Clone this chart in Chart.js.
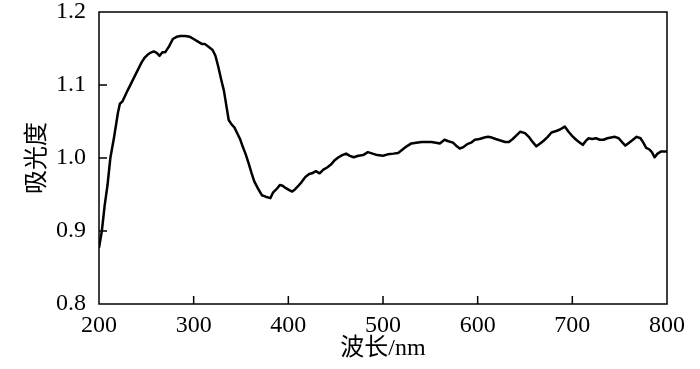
<!DOCTYPE html>
<html lang="zh-CN">
<head>
    <meta charset="UTF-8" />
    <title>吸光度</title>
    <script src="https://cdn.jsdelivr.net/npm/chart.js"></script>
    <style>
        html, body { margin: 0; padding: 0; background: #fff; }
        #wrap { width: 700px; height: 369px; }
    </style>
</head>
<body>
    <div id="wrap"><canvas id="spectrum"></canvas></div>
    <script>
        // 波长 (nm) 和 吸光度
        const wavelength = [
            200, 203, 206, 209, 212, 216, 220, 222, 225, 230, 235, 240, 245, 248, 251, 254,
            258, 261, 264, 267, 270, 274, 278, 282, 286, 291, 296, 300, 305, 309, 312, 316,
            320, 323, 326, 329, 332, 335, 337, 340, 343, 346, 349, 352, 355, 358, 361, 364,
            368, 372, 376, 381, 384, 388, 391, 394, 397, 401, 404, 407, 410, 414, 418, 422,
            425, 429, 433, 437, 441, 445, 449, 453, 457, 461, 465, 469, 474, 479, 484, 489,
            494, 500, 505, 511, 516, 521, 525, 530, 535, 541, 546, 551, 556, 560, 565, 569,
            574, 578, 581, 585, 589, 593, 597, 602, 607, 611, 615, 619, 624, 629, 633, 637,
            641, 645, 650, 654, 658, 662, 666, 670, 674, 678, 683, 687, 692, 696, 700, 704,
            708, 711, 714, 717, 721, 725, 729, 733, 737, 741, 745, 749, 753, 756, 760, 764,
            768, 772, 775, 778, 781, 784, 787, 790, 794, 800
        ];
        const absorbance = [
            0.877, 0.900, 0.935, 0.963, 1.000, 1.029, 1.062, 1.074, 1.078, 1.092, 1.105, 1.118, 1.131, 1.137, 1.141, 1.144,
            1.146, 1.144, 1.140, 1.145, 1.145, 1.153, 1.163, 1.166, 1.167, 1.167, 1.166, 1.163, 1.159, 1.156, 1.156, 1.152,
            1.148, 1.140, 1.125, 1.108, 1.092, 1.068, 1.052, 1.046, 1.042, 1.034, 1.026, 1.015, 1.005, 0.993, 0.980, 0.968,
            0.958, 0.949, 0.947, 0.945, 0.953, 0.958, 0.963, 0.962, 0.959, 0.956, 0.954, 0.957, 0.961, 0.967, 0.974, 0.978,
            0.979, 0.982, 0.979, 0.984, 0.987, 0.991, 0.997, 1.001, 1.004, 1.006, 1.003, 1.001, 1.003, 1.004, 1.008, 1.006,
            1.004, 1.003, 1.005, 1.006, 1.007, 1.012, 1.016, 1.020, 1.021, 1.022, 1.022, 1.022, 1.021, 1.020, 1.025, 1.023,
            1.021, 1.016, 1.013, 1.015, 1.019, 1.021, 1.025, 1.026, 1.028, 1.029, 1.028, 1.026, 1.024, 1.022, 1.022, 1.026,
            1.031, 1.036, 1.034, 1.029, 1.022, 1.016, 1.020, 1.024, 1.029, 1.035, 1.037, 1.039, 1.043, 1.036, 1.030, 1.025,
            1.021, 1.018, 1.023, 1.027, 1.026, 1.027, 1.025, 1.025, 1.027, 1.028, 1.029, 1.027, 1.021, 1.017, 1.021, 1.025,
            1.029, 1.027, 1.021, 1.014, 1.012, 1.008, 1.001, 1.006, 1.009, 1.009
        ];
        const xTicks = [200, 300, 400, 500, 600, 700, 800];
        const yTicks = [0.8, 0.9, 1.0, 1.1, 1.2];

        const points = wavelength.map((w, i) => ({ x: w, y: absorbance[i] }));

        // 边框和向内的刻度线
        const frameAndTicks = {
            id: "frameAndTicks",
            afterDraw(chart) {
                const { ctx, chartArea: a, scales } = chart;
                ctx.save();
                ctx.strokeStyle = "#000";
                ctx.lineWidth = 1.5;
                ctx.strokeRect(a.left, a.top, a.right - a.left, a.bottom - a.top);
                ctx.beginPath();
                xTicks.slice(1, -1).forEach((v) => {
                    const px = scales.x.getPixelForValue(v);
                    ctx.moveTo(px, a.bottom);
                    ctx.lineTo(px, a.bottom - 8);
                });
                yTicks.slice(1, -1).forEach((v) => {
                    const py = scales.y.getPixelForValue(v);
                    ctx.moveTo(a.left, py);
                    ctx.lineTo(a.left + 8, py);
                });
                ctx.stroke();
                ctx.restore();
            },
        };

        const serif = "Liberation Serif, Noto Sans CJK SC, serif";

        new Chart(document.getElementById("spectrum"), {
            type: "line",
            data: {
                datasets: [
                    {
                        data: points,
                        borderColor: "#000",
                        borderWidth: 2.5,
                        borderJoinStyle: "round",
                        pointRadius: 0,
                        tension: 0,
                        fill: false,
                    },
                ],
            },
            options: {
                responsive: true,
                maintainAspectRatio: false,
                animation: false,
                layout: { padding: { left: 0, right: 33, top: 12, bottom: 0 } },
                plugins: { legend: { display: false }, tooltip: { enabled: false } },
                scales: {
                    x: {
                        type: "linear",
                        min: 200,
                        max: 800,
                        afterBuildTicks: (s) => { s.ticks = xTicks.map((v) => ({ value: v })); },
                        afterFit: (s) => {
                            s.height = 65;
                            s.paddingLeft = 0;
                            s.paddingRight = 0;
                        },
                        grid: { display: false, drawTicks: false },
                        border: { display: false },
                        ticks: { color: "#000", padding: 7, maxRotation: 0, font: { family: serif, size: 24 } },
                        title: {
                            display: true,
                            text: "波长/nm",
                            color: "#000",
                            padding: { top: 0, bottom: 6 },
                            font: { family: serif, size: 24 },
                        },
                    },
                    y: {
                        min: 0.8,
                        max: 1.2,
                        afterBuildTicks: (s) => { s.ticks = yTicks.map((v) => ({ value: v })); },
                        afterFit: (s) => {
                            s.width = 99;
                            s.paddingTop = 0;
                            s.paddingBottom = 0;
                        },
                        grid: { display: false, drawTicks: false },
                        border: { display: false },
                        ticks: {
                            color: "#000",
                            padding: 13,
                            font: { family: serif, size: 24 },
                            callback: (v) => Number(v).toFixed(1),
                        },
                        title: {
                            display: true,
                            text: "吸光度",
                            color: "#000",
                            padding: { top: 23, bottom: 0 },
                            font: { family: serif, size: 24 },
                        },
                    },
                },
            },
            plugins: [frameAndTicks],
        });
    </script>
</body>
</html>
